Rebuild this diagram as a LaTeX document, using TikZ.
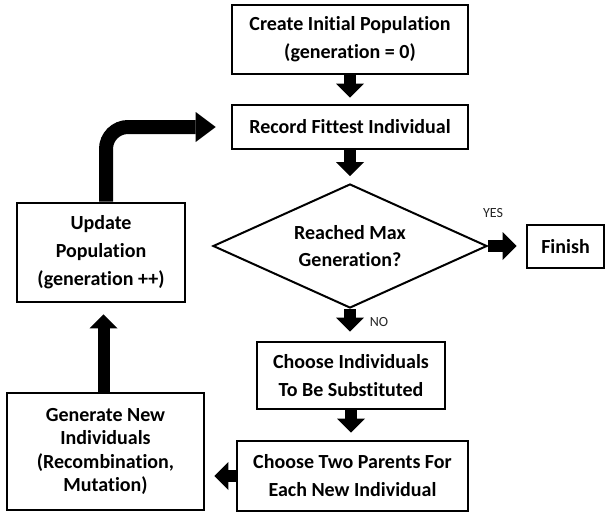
\documentclass[tikz,border=0pt]{standalone}
\usepackage{fontspec}
\setmainfont{Carlito}[Ligatures=NoCommon]
\usetikzlibrary{arrows.meta,shapes.geometric}
\begin{document}
\begin{tikzpicture}[x=1pt,y=-1pt,
  box/.style={draw=black, line width=2.6pt, fill=white, inner sep=0pt, align=center,
    font=\fontsize{20}{28}\selectfont\bfseries},
  flow/.style={line width=12pt, -{Triangle[width=28pt,length=14pt,line width=0pt]}},
  bigflow/.style={line width=14pt, rounded corners=22pt, -{Triangle[width=30pt,length=20pt,line width=0pt]}},
  lbl/.style={font=\fontsize{14}{16}\selectfont, text=black!85}
]
\useasboundingbox[fill=white] (0,0) rectangle (608,515);

\node[box, minimum width=236pt, minimum height=69pt] (create) at (350,39.5) {Create Initial Population\\(generation = 0)};
\node[box, minimum width=236pt, minimum height=44pt] (record) at (350,127) {Record Fittest Individual};
\node[draw=black, diamond, line width=2pt, minimum width=274pt, minimum height=124pt, inner sep=0pt, aspect=2.2,
  align=center, font=\fontsize{20}{27}\selectfont\bfseries] (dia) at (350,246) {Reached Max\\Generation?};
\node[box, minimum width=77pt, minimum height=43pt] (finish) at (565.5,246.5) {Finish};
\node[box, minimum width=188pt, minimum height=67pt] (choosei) at (351,375.5) {Choose Individuals\\To Be Substituted};
\node[box, minimum width=231pt, minimum height=70pt] (choose2) at (352.5,476) {Choose Two Parents For\\Each New Individual};
\node[box, minimum width=197pt, minimum height=117pt, font=\fontsize{20}{23.5}\selectfont\bfseries] (gen) at (105.5,451.5) {Generate New\\Individuals\\(Recombination,\\Mutation)};
\node[box, minimum width=168pt, minimum height=99pt] (upd) at (101,252.5) {Update\\Population\\(generation ++)};

\node[lbl] (yes) at (493,213) {YES};
\node[lbl] (no) at (379,322) {NO};

\draw[flow, shorten >=6pt] (create.south) -- (record.north);
\draw[flow, shorten >=7pt] (record.south) -- (dia.north);
\draw[flow, shorten >=9pt] (dia.east) -- (dia.east -| finish.west);
\draw[flow, shorten >=9pt] (dia.south) -- (dia.south |- choosei.north);
\draw[flow, shorten >=7pt] (choosei.south) -- (choosei.south |- choose2.north);
\draw[flow, shorten >=9pt] (choose2.west) -- (choose2.west -| gen.east);
\draw[flow, shorten >=11pt] ([xshift=-2pt]gen.north) -- ([xshift=-2pt]gen.north |- upd.south);
\draw[bigflow, shorten >=15pt] ([xshift=5pt]upd.north) |- (record.west);
\end{tikzpicture}
\end{document}
